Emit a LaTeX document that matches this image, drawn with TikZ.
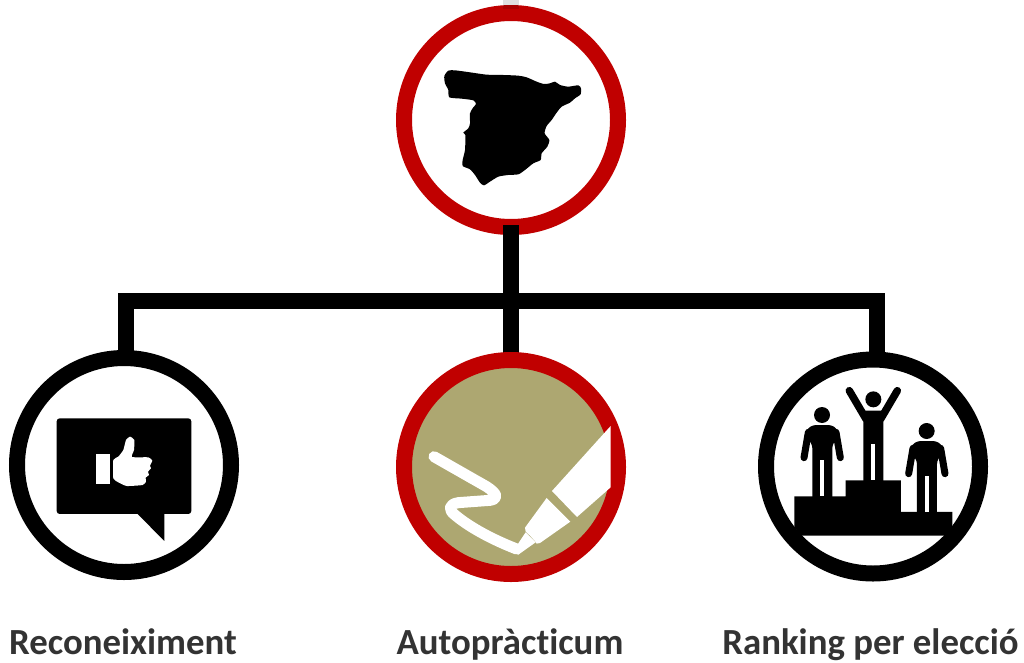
\documentclass[tikz,border=0pt]{standalone}
\usepackage{fontspec}
\setmainfont{Carlito}[Ligatures=CommonOff]
\usetikzlibrary{backgrounds}
\definecolor{capred}{HTML}{C00000}
\definecolor{olive}{HTML}{ADA771}
\definecolor{labelgray}{HTML}{333333}
\tikzset{
  x=1pt,y=-1pt,
  ring/.style={circle,draw,line width=16pt,minimum size=214pt,inner sep=0pt,outer sep=0pt,fill=white},
  redring/.style={ring,draw=capred},
  conn/.style={line width=16pt,draw=black,line cap=butt,line join=miter},
  lbl/.style={font=\bfseries\fontsize{36.8pt}{40pt}\selectfont,text=labelgray,anchor=base,inner sep=0pt},
  icon/.style={shift={(#1)},x=0.3333pt,y=-0.3333pt},
  figarm/.style={black,line width=7pt,line cap=round}
}
\begin{document}
\begin{tikzpicture}
\useasboundingbox (0,0) rectangle (1024,662);
% nodes
\node[redring] (top) at (511,120) {};
\node[ring] (left) at (124,465) {};
\node[redring,fill=olive] (mid) at (511,467) {};
\node[ring] (right) at (873,466.5) {};
% connectors
\coordinate (barL) at (126,301);
\coordinate (barR) at (876.5,301);
\coordinate (barM) at (511,301);
\begin{pgfonlayer}{background}
\fill[white] (0,0) rectangle (1024,662);
\draw[conn] (barM) -- (mid);
\end{pgfonlayer}
\draw[conn] ([yshift=2pt]top.south) -- (barM);
\draw[conn] (barL |- left.north) -- (barL) -- (barR) -- (barR |- right.north);
\fill[black,opacity=.12] (503,0) rectangle (519,9);
% Spain
\begin{scope}[icon={390,0}]
\fill[black] plot[smooth cycle,tension=0.4] coordinates {
(163,228)(175,212)(195,211)(240,217)(290,224)(340,225)(385,227)(410,232)(440,245)(462,252)(480,250)(495,245)(510,255)(535,260)(565,256)(573,265)(572,283)(555,295)(540,308)(515,320)(500,338)(485,360)(470,378)(464,400)(478,420)(472,440)(455,460)(452,480)(430,490)(405,510)(385,523)(355,525)(325,530)(300,545)(282,556)(270,548)(255,525)(240,508)(218,498)(218,480)(225,450)(226,405)(220,398)(235,385)(240,370)(240,340)(250,322)(258,312)(250,301)(215,296)(178,292)(175,270)(165,250)};
\end{scope}
% Like bubble
\begin{scope}[icon={0,345}]
\fill[black,rounded corners=3pt] (170,220) rectangle (574,507);
\fill[black] (413,500) -- (413,507) -- (493,588) -- (493,500) -- cycle;
\fill[white] (289,327) rectangle (329,417);
\fill[white] plot[smooth cycle,tension=0.3] coordinates {
(340,345)(355,335)(370,315)(378,285)(390,275)(403,285)(402,315)(396,336)(445,337)(457,347)(450,362)(453,370)(444,380)(447,390)(437,398)(438,410)(428,420)(380,423)(355,412)(340,400)};
\end{scope}
% Pen
\begin{scope}[icon={390,345}]
\draw[white,line width=11pt,line cap=round,line join=round]
  (132,335) -- (290,425) .. controls (325,448) and (325,462) .. (300,466)
  -- (205,473) .. controls (175,478) and (175,495) .. (195,510)
  .. controls (240,548) and (310,585) .. (380,612);
\fill[white] (662,243) -- (662,427) -- (561,516) -- (486,438) -- cycle;
\fill[white] (470,459) -- (541,530) -- (450,594) -- (440,596) -- (436,590) -- (420,572) -- (407,560) -- (405,548) -- cycle;
\fill[white] (407,562) -- (437,592) -- (385,629) -- (375,625) -- (385,595) -- cycle;
\end{scope}
% Podium
\begin{scope}[icon={755,345}]
\fill[black] (118,454) -- (272,454) -- (272,406) -- (438,406) -- (438,501) -- (592,501) -- (592,548) -- (570,572) -- (140,572) -- (118,548) -- cycle;
% centre figure
\fill[black] (355,163) circle[radius=8pt];
\draw[figarm,line width=7.5pt] (283,137) -- (333,222);
\draw[figarm,line width=7.5pt] (427,137) -- (377,222);
\fill[black,rounded corners=2pt] (325,197) rectangle (385,420);
\fill[white] (349,298) rectangle (361,406);
% left figure
\fill[black] (201,210) circle[radius=8pt];
\draw[figarm] (160,262) -- (147,338);
\draw[figarm] (243,262) -- (256,338);
\fill[black,rounded corners=3pt] (175,240) -- (228,240) -- (245,250) -- (252,270) -- (232,300) -- (232,470) -- (172,470) -- (172,300) -- (150,270) -- (158,250) -- cycle;
\fill[white] (195,346) rectangle (207,454);
% right figure
\fill[black] (515,258) circle[radius=8pt];
\draw[figarm] (474,310) -- (461,386);
\draw[figarm] (557,310) -- (570,386);
\fill[black,rounded corners=3pt] (489,288) -- (542,288) -- (559,298) -- (566,318) -- (546,348) -- (546,515) -- (486,515) -- (486,348) -- (464,318) -- (472,298) -- cycle;
\fill[white] (509,393) rectangle (521,501);
\end{scope}
% labels
\node[lbl] (lblL) at (123,654) {Reconeiximent};
\node[lbl] (lblM) at (510,654) {Autopràcticum};
\node[lbl] (lblR) at (870.5,654.5) {Ranking per elecció};
\end{tikzpicture}
\end{document}
